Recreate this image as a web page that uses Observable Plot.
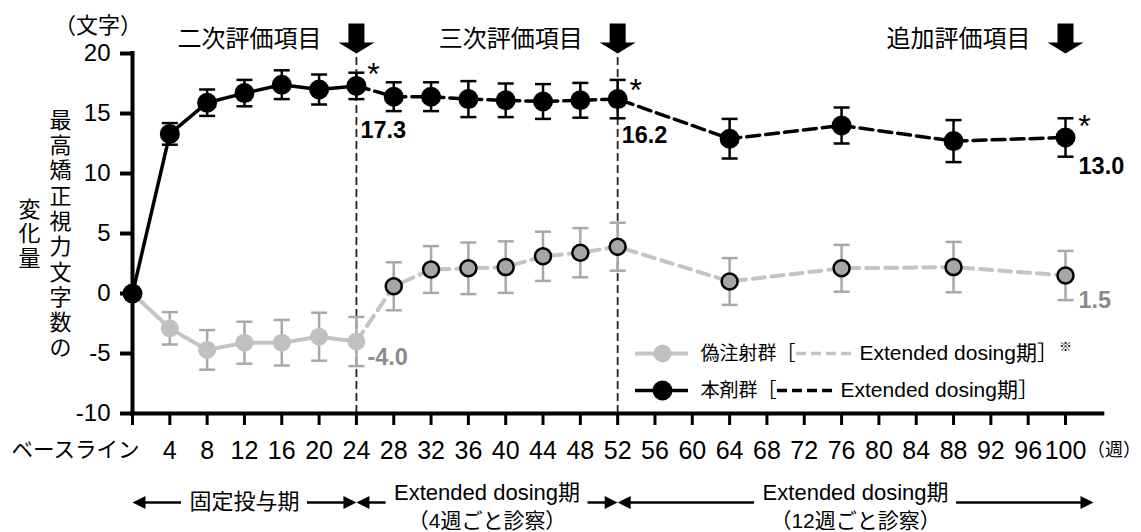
<!DOCTYPE html>
<html><head><meta charset="utf-8">
<script src="https://cdn.jsdelivr.net/npm/d3@7"></script>
<script src="https://cdn.jsdelivr.net/npm/@observablehq/plot@0.6"></script>
<style>body{margin:0;background:#fff;} #chart svg{display:block;overflow:visible;}</style>
</head><body><div id="chart"></div>
<script>
// ---- data ----
const weeks    = [0, 4, 8, 12, 16, 20, 24, 28, 32, 36, 40, 44, 48, 52, 64, 76, 88, 100];
const drugMean = [0, 13.3, 15.9, 16.7, 17.4, 17.0, 17.3, 16.4, 16.4, 16.2, 16.1, 16.0, 16.1, 16.2, 12.9, 14.0, 12.7, 13.0];
const drugErr  = [0, 0.9, 1.1, 1.1, 1.2, 1.25, 1.1, 1.2, 1.2, 1.5, 1.4, 1.45, 1.45, 1.6, 1.65, 1.5, 1.75, 1.6];
const shamMean = [0, -2.9, -4.7, -4.1, -4.1, -3.6, -4.0, 0.6, 2.0, 2.1, 2.2, 3.1, 3.4, 3.9, 1.0, 2.1, 2.2, 1.5];
const shamErr  = [0, 1.35, 1.65, 1.75, 1.9, 2.0, 2.05, 2.0, 1.95, 2.15, 2.15, 2.05, 2.05, 2.0, 1.95, 1.95, 2.1, 2.05];
const xTicks = d3.range(0, 101, 4);
const yTicks = [-10, -5, 0, 5, 10, 15, 20];
const milestoneWeeks  = [24, 52, 100];
const milestoneLabels = ["二次評価項目", "三次評価項目", "追加評価項目"];
const periodLabels    = ["固定投与期", "Extended dosing期", "Extended dosing期"];
const periodSubLabels = ["", "（4週ごと診察）", "（12週ごと診察）"];
const periodStart = [0, 24, 52];
const periodEnd   = [24, 52, 103];
const legendLabels = ["偽注射群［", "本剤群［"];
const legendExt    = ["Extended dosing期］", "Extended dosing期］"];
const yLabelMain = "最高矯正視力文字数の";
const yLabelSub  = "変化量";

// ---- helpers ----
const FONT = '"Liberation Sans", Arial, "Noto Sans CJK JP", sans-serif';
const PX0 = 132, PX100 = 1065, K = (PX100 - PX0) / 100;
const wk = px => (px - PX0) / K;
const val = py => (293 - py) / 12;
const cv = document.createElement("canvas").getContext("2d");
function textW(s, size, weight = "normal") { cv.font = `${weight} ${size}px ${FONT}`; return cv.measureText(s).width; }

const rows = weeks.map((w, i) => ({week: w, drug: drugMean[i], dErr: drugErr[i], sham: shamMean[i], sErr: shamErr[i]}));
const fixed = rows.filter(d => d.week <= 24);
const ext = rows.filter(d => d.week >= 24);
const withErr = rows.filter(d => d.week > 0);

const cap = {draw(c) { c.moveTo(-8, 0); c.lineTo(8, 0); }};
const downArrow = {draw(c) { c.moveTo(-8, -30); c.lineTo(8, -30); c.lineTo(8, -11); c.lineTo(18, -11); c.lineTo(0, 0); c.lineTo(-18, -11); c.lineTo(-8, -11); c.closePath(); }};
const headR = {draw(c) { c.moveTo(0, 0); c.lineTo(-13, -6.5); c.lineTo(-13, 6.5); c.closePath(); }};
const headL = {draw(c) { c.moveTo(0, 0); c.lineTo(13, -6.5); c.lineTo(13, 6.5); c.closePath(); }};

const GRAY_LINE = "#c4c4c4", GRAY_ERR = "#a8a8a8", GRAY_DOT = "#c0c0c0", GRAY_DOT2 = "#a6a6a6", GRAY_TXT = "#8c8c8c";

// period arrows
const periods = periodLabels.map((label, i) => ({label, sub: periodSubLabels[i], from: periodStart[i], to: periodEnd[i], mid: (periodStart[i] + periodEnd[i]) / 2}));
const segs = [];
periods.forEach(p => {
  const hw = textW(p.label, 22) / 2 / K, gap = 8 / K, head = 12 / K;
  segs.push({x1: p.from + head, x2: p.mid - hw - gap});
  segs.push({x1: p.mid + hw + gap, x2: p.to - head});
});
const ARY = 89; // px below axis

// legend geometry
const leg = legendLabels.map((lab, i) => {
  const y = i === 0 ? val(353) : val(390);
  const a = 700 + textW(lab, 19) + 1;
  const b = a + 56;
  const t = b + 7;
  return {lab, y, a, b, t, ext: legendExt[i]};
});
const extEnd = leg[0].t + textW(legendExt[0], 21);

const marks = [
  // reference dashed verticals
  Plot.ruleX(milestoneWeeks.slice(0, 2), {y1: -10, y2: 20, stroke: "#2a1f1f", strokeWidth: 1.8, strokeDasharray: "8,4"}),
  // axes
  Plot.ruleX([0], {y1: -10, y2: 20, stroke: "black", strokeWidth: 4, strokeLinecap: "square"}),
  Plot.ruleY([-10], {x1: 0, x2: 104, stroke: "black", strokeWidth: 4, strokeLinecap: "square"}),
  Plot.axisY({ticks: yTicks, tickSize: 12, tickPadding: 10, tickFormat: d => String(d), fontSize: 24, strokeWidth: 4, label: null}),
  Plot.ruleX(xTicks, {x: d => d, y1: -10, y2: -11, stroke: "black", strokeWidth: 3}),
  Plot.text(xTicks.filter(d => d > 0), {x: d => d, y: -10, dy: 37, text: d => String(d), fontSize: 25, lineAnchor: "middle"}),
  Plot.text(["ベースライン"], {x: 0, y: -10, dx: -57, dy: 37, fontSize: 21.5, lineAnchor: "middle"}),
  Plot.text(["（週）"], {x: 100, y: -10, dx: 21.5, dy: 37, fontSize: 18, textAnchor: "start", lineAnchor: "middle"}),
  Plot.text(["（文字）"], {x: 0, y: 20, dx: -34.5, dy: -28, fontSize: 22, lineAnchor: "middle"}),
  Plot.text([yLabelMain.split("").join("\n")], {x: 0, y: 5, dx: -72, fontSize: 22, lineHeight: 1.15, lineAnchor: "middle"}),
  Plot.text([yLabelSub.split("").join("\n")], {x: 0, y: 5, dx: -103, fontSize: 22, lineHeight: 1.11, lineAnchor: "middle"}),

  // sham group
  Plot.ruleX(withErr, {x: "week", y1: d => d.sham - d.sErr, y2: d => d.sham + d.sErr, stroke: GRAY_ERR, strokeWidth: 2.5}),
  Plot.dot(withErr, {x: "week", y: d => d.sham + d.sErr, symbol: cap, fill: "none", stroke: GRAY_ERR, strokeWidth: 2.5}),
  Plot.dot(withErr, {x: "week", y: d => d.sham - d.sErr, symbol: cap, fill: "none", stroke: GRAY_ERR, strokeWidth: 2.5}),
  Plot.line(fixed, {x: "week", y: "sham", stroke: GRAY_LINE, strokeWidth: 4}),
  Plot.line(ext, {x: "week", y: "sham", stroke: GRAY_LINE, strokeWidth: 4, strokeDasharray: "12,7"}),
  Plot.dot(fixed.filter(d => d.week > 0), {x: "week", y: "sham", r: 9, fill: GRAY_DOT, stroke: "none"}),
  Plot.dot(ext.filter(d => d.week > 24), {x: "week", y: "sham", r: 8, fill: GRAY_DOT2, stroke: "black", strokeWidth: 2.5}),

  // drug group
  Plot.ruleX(withErr, {x: "week", y1: d => d.drug - d.dErr, y2: d => d.drug + d.dErr, stroke: "black", strokeWidth: 2.5}),
  Plot.dot(withErr, {x: "week", y: d => d.drug + d.dErr, symbol: cap, fill: "none", stroke: "black", strokeWidth: 2.5}),
  Plot.dot(withErr, {x: "week", y: d => d.drug - d.dErr, symbol: cap, fill: "none", stroke: "black", strokeWidth: 2.5}),
  Plot.line(fixed, {x: "week", y: "drug", stroke: "black", strokeWidth: 3.5}),
  Plot.line(ext, {x: "week", y: "drug", stroke: "black", strokeWidth: 3.5, strokeDasharray: "13,6"}),
  Plot.dot(rows, {x: "week", y: "drug", r: 10, fill: "black", stroke: "none"}),

  // value labels
  Plot.text(["17.3"], {x: 24, y: val(130), dx: 4, textAnchor: "start", lineAnchor: "middle", fontSize: 23.5, fontWeight: "bold"}),
  Plot.text(["16.2"], {x: 52, y: val(135), dx: 4, textAnchor: "start", lineAnchor: "middle", fontSize: 23.5, fontWeight: "bold"}),
  Plot.text(["13.0"], {x: 100, y: val(166), dx: 13, textAnchor: "start", lineAnchor: "middle", fontSize: 23.5, fontWeight: "bold"}),
  Plot.text(["-4.0"], {x: 24, y: val(357), dx: 11, textAnchor: "start", lineAnchor: "middle", fontSize: 23.5, fontWeight: "bold", fill: GRAY_TXT}),
  Plot.text(["1.5"], {x: 100, y: val(300), dx: 13, textAnchor: "start", lineAnchor: "middle", fontSize: 23.5, fontWeight: "bold", fill: GRAY_TXT}),
  // asterisks
  Plot.text(["*"], {x: 24, y: val(62), dx: 17, lineAnchor: "top", fontSize: 32}),
  Plot.text(["*"], {x: 52, y: val(78), dx: 18, lineAnchor: "top", fontSize: 32}),
  Plot.text(["*"], {x: 100, y: val(114), dx: 19, lineAnchor: "top", fontSize: 32}),

  // milestone arrows & labels
  Plot.dot(milestoneWeeks, {x: d => d, y: 20, symbol: downArrow, fill: "black", stroke: "none"}),
  Plot.text(milestoneWeeks, {x: d => d, y: 20, text: (d, i) => milestoneLabels[i], textAnchor: "end", dx: -35, dy: -14, fontSize: 24, lineAnchor: "middle"}),

  // period arrows
  Plot.ruleY(segs, {x1: "x1", x2: "x2", y: -10, dy: ARY, stroke: "black", strokeWidth: 2.5}),
  Plot.dot(periods, {x: "from", y: -10, dy: ARY, symbol: headL, fill: "black", stroke: "none"}),
  Plot.dot(periods, {x: "to", y: -10, dy: ARY, symbol: headR, fill: "black", stroke: "none"}),
  Plot.text(periods.filter(p => !p.sub), {x: "mid", y: -10, text: "label", dy: 88, fontSize: 22, lineAnchor: "middle"}),
  Plot.text(periods.filter(p => p.sub), {x: "mid", y: -10, text: "label", dy: 79.5, fontSize: 22, lineAnchor: "middle"}),
  Plot.text(periods.filter(p => p.sub), {x: "mid", y: -10, text: "sub", dy: 108, fontSize: 21, lineAnchor: "middle"}),

  // legend
  Plot.ruleY([leg[0].y], {x1: wk(635), x2: wk(688), stroke: GRAY_LINE, strokeWidth: 4}),
  Plot.dot([leg[0].y], {x: wk(662), y: d => d, r: 9, fill: GRAY_DOT, stroke: "none"}),
  Plot.ruleY([leg[0].y], {x1: wk(leg[0].a), x2: wk(leg[0].b), stroke: GRAY_LINE, strokeWidth: 3.5, strokeDasharray: "10,5"}),
  Plot.ruleY([leg[1].y], {x1: wk(635), x2: wk(688), stroke: "black", strokeWidth: 3.5}),
  Plot.dot([leg[1].y], {x: wk(662), y: d => d, r: 10, fill: "black", stroke: "none"}),
  Plot.ruleY([leg[1].y], {x1: wk(leg[1].a), x2: wk(leg[1].b), stroke: "black", strokeWidth: 3.5, strokeDasharray: "10,5"}),
  Plot.text(leg, {x: () => wk(700), y: "y", text: "lab", textAnchor: "start", lineAnchor: "middle", fontSize: 19}),
  Plot.text(leg, {x: d => wk(d.t), y: "y", text: "ext", textAnchor: "start", lineAnchor: "middle", fontSize: 21}),
  Plot.text(["※"], {x: wk(extEnd + 1), y: val(346), textAnchor: "start", lineAnchor: "middle", fontSize: 13})
];

const chart = Plot.plot({
  width: 1141, height: 532,
  marginLeft: 132, marginRight: 76, marginTop: 53, marginBottom: 119,
  x: {domain: [0, 100], label: null, axis: null},
  y: {domain: [-10, 20], label: null},
  style: {fontFamily: FONT, background: "white", color: "black", overflow: "visible"},
  marks
});
document.getElementById("chart").appendChild(chart);
</script>
</body></html>
